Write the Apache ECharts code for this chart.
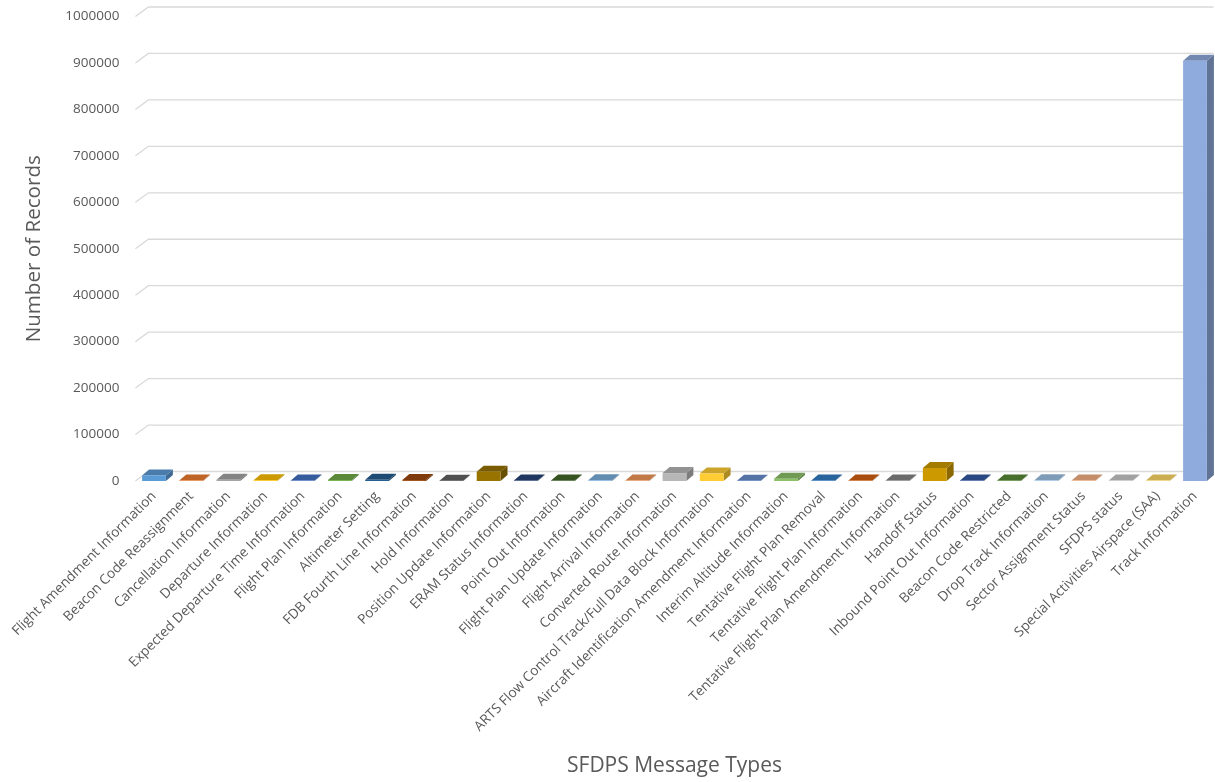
<!DOCTYPE html>
<html>
<head>
<meta charset="utf-8">
<script src="https://cdn.jsdelivr.net/npm/echarts@6/dist/echarts.min.js"></script>
<style>
html,body{margin:0;padding:0;background:#fff;}
#chart{width:1215px;height:782px;}
</style>
</head>
<body>
<div id="chart"></div>
<script>
const categories = [
  "Flight Amendment Information",
  "Beacon Code Reassignment",
  "Cancellation Information",
  "Departure Information",
  "Expected Departure Time Information",
  "Flight Plan Information",
  "Altimeter Setting",
  "FDB Fourth Line Information",
  "Hold Information",
  "Position Update Information",
  "ERAM Status Information",
  "Point Out Information",
  "Flight Plan Update Information",
  "Flight Arrival Information",
  "Converted Route Information",
  "ARTS Flow Control Track/Full Data Block Information",
  "Aircraft Identification Amendment Information",
  "Interim Altitude Information",
  "Tentative Flight Plan Removal",
  "Tentative Flight Plan Information",
  "Tentative Flight Plan Amendment Information",
  "Handoff Status",
  "Inbound Point Out Information",
  "Beacon Code Restricted",
  "Drop Track Information",
  "Sector Assignment Status",
  "SFDPS status",
  "Special Activities Airspace (SAA)",
  "Track Information"
];
const recordCounts = [
  12000, 1000, 2500, 1500, 1000, 2000, 2500, 2000, 800, 20000,
  1000, 1200, 1500, 1000, 17000, 16000, 800, 5000, 1200, 1000,
  1000, 28000, 1000, 1200, 1500, 1000, 1000, 1000, 905000
];
const yTicks = [0, 100000, 200000, 300000, 400000, 500000, 600000, 700000, 800000, 900000, 1000000];

const barColors = [
  "#5B9BD5","#ED7D31","#A5A5A5","#FFC000","#4472C4","#70AD47",
  "#255E91","#9E480E","#636363","#997300","#264478","#43682B",
  "#7CAFDD","#F1975A","#B7B7B7","#FFCD33","#698ED0","#8CC168",
  "#327DC2","#D26012","#848484","#CC9A00","#335AA1","#5A8A39",
  "#9DC3E6","#F4B183","#C9C9C9","#FFD966","#8FAADC"
];

function shade(hex, f) {
  const n = parseInt(hex.slice(1), 16);
  const r = Math.round(((n >> 16) & 255) * f);
  const g = Math.round(((n >> 8) & 255) * f);
  const b = Math.round((n & 255) * f);
  return "rgb(" + r + "," + g + "," + b + ")";
}

const GRID_DX = 13, GRID_DY = 9.5;
const BAR_DX = 7, BAR_DY = 6;
const textColor = "#595959";
const fontFam = "'Open Sans', 'Noto Sans', sans-serif";

const chart = echarts.init(document.getElementById('chart'), null, {renderer: 'canvas'});

const option = {
  backgroundColor: '#ffffff',
  animation: false,
  grid: { left: 135.4, right: 1.4, top: 16.5, bottom: 300.5, containLabel: false },
  xAxis: {
    type: 'category',
    data: categories,
    axisLine: { show: false },
    axisTick: { show: false },
    splitLine: { show: false },
    axisLabel: {
      interval: 0,
      rotate: 45,
      margin: 13,
      color: textColor,
      fontSize: 13.7,
      fontFamily: fontFam
    },
    name: 'SFDPS Message Types',
    nameLocation: 'middle',
    nameGap: 275,
    nameTextStyle: { color: textColor, fontSize: 21, fontFamily: fontFam }
  },
  yAxis: {
    type: 'value',
    min: 0,
    max: 1000000,
    interval: 100000,
    axisLine: { show: false },
    axisTick: { show: false },
    splitLine: { show: false },
    axisLabel: {
      margin: 16,
      color: textColor,
      fontSize: 13.5,
      fontFamily: fontFam,
      formatter: function (v) { return String(v); }
    },
    name: 'Number of Records',
    nameLocation: 'middle',
    nameGap: 91,
    nameTextStyle: { color: textColor, fontSize: 20.6, fontFamily: fontFam }
  },
  series: [
    {
      type: 'custom',
      name: 'grid3d',
      silent: true,
      clip: false,
      z: 1,
      data: yTicks.map(function (t) { return [0, t]; }),
      renderItem: function (params, api) {
        const cs = params.coordSys;
        const y = api.coord([0, api.value(1)])[1];
        const x0 = cs.x, x1 = cs.x + cs.width;
        return {
          type: 'polyline',
          shape: { points: [[x0, y], [x0 + GRID_DX, y - GRID_DY], [x1, y - GRID_DY]] },
          style: { stroke: '#D9D9D9', lineWidth: 1.3, fill: null }
        };
      }
    },
    {
      type: 'custom',
      name: 'Records',
      clip: false,
      z: 2,
      data: recordCounts.map(function (v, i) { return [i, v]; }),
      renderItem: function (params, api) {
        const i = api.value(0);
        const base = api.coord([i, 0]);
        const top = api.coord([i, api.value(1)]);
        const bw = api.size([1, 0])[0] * 0.64;
        const x = base[0] - bw / 2;
        const c = barColors[params.dataIndex % barColors.length];
        return {
          type: 'group',
          children: [
            {
              type: 'polygon',
              shape: { points: [[x + bw, top[1]], [x + bw + BAR_DX, top[1] - BAR_DY], [x + bw + BAR_DX, base[1] - BAR_DY], [x + bw, base[1]]] },
              style: { fill: shade(c, 0.68) }
            },
            {
              type: 'polygon',
              shape: { points: [[x, top[1]], [x + BAR_DX, top[1] - BAR_DY], [x + bw + BAR_DX, top[1] - BAR_DY], [x + bw, top[1]]] },
              style: { fill: shade(c, 0.8) }
            },
            {
              type: 'rect',
              shape: { x: x, y: top[1], width: bw, height: base[1] - top[1] },
              style: { fill: c }
            }
          ]
        };
      }
    }
  ]
};
chart.setOption(option);
</script>
</body>
</html>
